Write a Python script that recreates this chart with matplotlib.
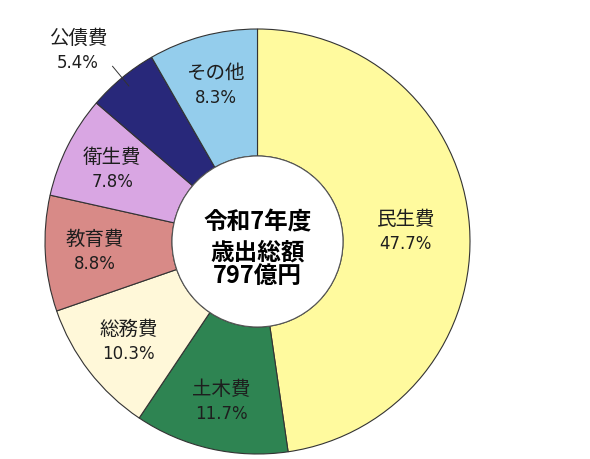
import numpy as np
import matplotlib.pyplot as plt
from matplotlib.patches import Circle

plt.rcParams['font.family'] = ['Noto Sans CJK JP', 'DejaVu Sans']

# 令和7年度 歳出 (目的別)
names = ['民生費', '土木費', '総務費', '教育費', '衛生費', '公債費', 'その他']
shares = [47.7, 11.7, 10.3, 8.8, 7.8, 5.4, 8.3]
colors = ['#FFFA9E', '#2E8452', '#FFF8D9', '#D88A87', '#D9A6E3', '#28287A', '#94CDEC']
center_lines = ['令和7年度', '歳出総額', '797億円']

fig = plt.figure(figsize=(5.9, 4.6), dpi=100)
ax = fig.add_axes([0, 0, 1, 1])

cx, cy = 257.5, 460 - 242.5
R, r_in = 212.5, 85.5

ax.pie(shares, colors=colors, startangle=90, counterclock=False,
       center=(cx, cy), radius=R,
       wedgeprops=dict(width=R - r_in, edgecolor='#333333', linewidth=0.8))
ax.add_patch(Circle((cx, cy), r_in, facecolor='white', edgecolor='#555555',
                    linewidth=0.8, zorder=3))

ax.set_xlim(0, 590)
ax.set_ylim(0, 460)
ax.axis('off')

# label placement along each wedge's middle angle
cum = np.cumsum(shares) - np.array(shares) / 2
mid = np.deg2rad(cum / 100 * 360)   # clockwise from 12 o'clock
label_r = {0: 0.70}
txt_color = '#1e1e1e'
for i, (n, s) in enumerate(zip(names, shares)):
    dx, dy = np.sin(mid[i]), np.cos(mid[i])
    if n == '公債費':
        ax.plot([cx + 0.95 * R * dx, cx + 1.07 * R * dx],
                [cy + 0.95 * R * dy, cy + 1.07 * R * dy],
                color='#333333', lw=0.7, zorder=4)
        lx, ly = 78, 460 - 50
    else:
        k = label_r.get(i, 0.765)
        lx, ly = cx + k * R * dx, cy + k * R * dy
    ax.text(lx, ly + 12, n, ha='center', va='center', fontsize=14, color=txt_color, zorder=5)
    ax.text(lx, ly - 12.5, f'{s:.1f}%', ha='center', va='center', fontsize=12,
            family='DejaVu Sans', color=txt_color, zorder=5)

# center caption
offs = [20.5, -10, -33.5]
for t, o in zip(center_lines, offs):
    ax.text(cx, cy + o, t, ha='center', va='center', fontsize=17,
            fontweight='bold', color='black', zorder=5)

fig.savefig('out.png', dpi=100)
